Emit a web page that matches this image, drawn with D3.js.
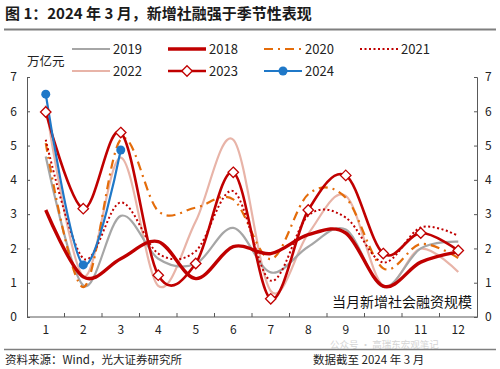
<!DOCTYPE html>
<html><head><meta charset="utf-8">
<script src="https://cdn.jsdelivr.net/npm/d3@7"></script>
<style>
body{margin:0;background:#fff;}
text{font-family:"Noto Sans CJK SC","Noto Sans",sans-serif;}
</style></head>
<body><svg id="c" width="500" height="369"></svg>
<script>
const months = [1,2,3,4,5,6,7,8,9,10,11,12];
const y2019 = [4.68, 0.92, 2.95, 1.7, 1.55, 2.6, 1.3, 2.05, 2.55, 0.88, 2.0, 2.2];
const y2018 = [3.12, 1.17, 1.7, 2.2, 1.12, 2.05, 1.85, 2.4, 2.45, 0.9, 1.6, 1.9];
const y2020 = [5.07, 0.87, 5.18, 3.09, 3.19, 3.43, 1.69, 3.58, 3.48, 1.42, 2.13, 1.72];
const y2021 = [5.17, 1.71, 3.34, 1.85, 1.92, 3.67, 1.06, 2.96, 2.9, 1.59, 2.61, 2.37];
const y2022 = [6.17, 1.19, 4.65, 0.91, 2.79, 5.17, 0.76, 2.43, 3.53, 0.91, 1.99, 1.31];
const y2023 = [5.98, 3.16, 5.38, 1.22, 1.56, 4.22, 0.53, 3.12, 4.13, 1.85, 2.45, 1.94];
const y2024 = [6.5, 1.52, 4.87];
const yTicks = [0,1,2,3,4,5,6,7];
const seriesNames = ["2019","2018","2020","2021","2022","2023","2024"];

const svg = d3.select("#c");
const x = d3.scaleBand().domain(months).range([27,477]);
const y = d3.scaleLinear().domain([0,7]).range([317,77]);
const cx = m => x(m) + x.bandwidth()/2;

// title
svg.append("text").attr("x",5).attr("y",19).attr("font-size",15).attr("font-weight","bold").attr("fill","#1a1a1a")
  .text("图 1：2024 年 3 月，新增社融强于季节性表现");
svg.append("line").attr("x1",4).attr("x2",496).attr("y1",29.5).attr("y2",29.5).attr("stroke","#7f7f7f").attr("stroke-width",2);

// axes
const axCol = "#595959";
const gl = svg.append("g").attr("transform","translate(27,0)").call(d3.axisLeft(y).tickValues(yTicks).tickSize(-3).tickPadding(10).tickFormat(d3.format("d")));
const gr = svg.append("g").attr("transform","translate(477,0)").call(d3.axisRight(y).tickValues(yTicks).tickSize(-3).tickPadding(8).tickFormat(d3.format("d")));
const gb = svg.append("g").attr("transform","translate(0,317)").call(d3.axisBottom(x).tickSize(0).tickPadding(8));
[gl,gr,gb].forEach(g=>{
  g.select(".domain").attr("stroke",axCol);
  g.selectAll(".tick line").attr("stroke",axCol);
  g.selectAll(".tick text").attr("font-size",12).attr("fill","#222").attr("font-family","'Noto Sans CJK SC','Noto Sans',sans-serif");
});
gb.select(".domain").attr("d","M27,0H477");
// bottom ticks between bands, pointing up
svg.append("g").selectAll("line").data(months.slice(1)).join("line")
  .attr("x1",d=>x(d)).attr("x2",d=>x(d)).attr("y1",317).attr("y2",313).attr("stroke",axCol);

svg.append("text").attr("x",27).attr("y",66).attr("font-size",12.5).attr("fill","#222").text("万亿元");

const line = d3.line().x((d,i)=>cx(months[i])).y(d=>y(d)).curve(d3.curveCatmullRom.alpha(0));
const styles = {
  "2019":{data:y2019,color:"#a6a6a6",w:2.2,dash:null},
  "2018":{data:y2018,color:"#c00000",w:3.4,dash:null},
  "2020":{data:y2020,color:"#e46c0a",w:2.2,dash:"9,5,2,5"},
  "2021":{data:y2021,color:"#c00000",w:2,dash:"2,2.5"},
  "2022":{data:y2022,color:"#e8b4a8",w:2.2,dash:null},
  "2023":{data:y2023,color:"#c00000",w:2.6,dash:null},
  "2024":{data:y2024,color:"#1f78c8",w:2.2,dash:null}
};
const drawOrder = ["2022","2019","2020","2021","2018","2023","2024"];
const plot = svg.append("g");
drawOrder.forEach(k=>{
  const s = styles[k];
  plot.append("path").attr("d",line(s.data)).attr("fill","none").attr("stroke",s.color)
    .attr("stroke-width",s.w).attr("stroke-dasharray",s.dash).attr("stroke-linecap","butt");
});
const diamond = d3.symbol().type(d3.symbolDiamond2).size(70);
plot.selectAll(".d23").data(y2023).join("path").attr("class","d23")
  .attr("transform",(d,i)=>`translate(${cx(months[i])},${y(d)})`)
  .attr("d",diamond).attr("fill","#fff").attr("stroke","#c00000").attr("stroke-width",1.3);
plot.selectAll(".c24").data(y2024).join("circle").attr("class","c24")
  .attr("cx",(d,i)=>cx(months[i])).attr("cy",d=>y(d)).attr("r",4.5).attr("fill","#1f78c8");

// legend
const legPos = {"2019":[72,49],"2018":[168,49],"2020":[264,49],"2021":[360,49],"2022":[72,71],"2023":[168,71],"2024":[264,71]};
seriesNames.forEach(k=>{
  const s = styles[k]; const [lx,ly] = legPos[k];
  const g = svg.append("g");
  g.append("line").attr("x1",lx).attr("x2",lx+38).attr("y1",ly).attr("y2",ly).attr("stroke",s.color)
    .attr("stroke-width",s.w).attr("stroke-dasharray",s.dash);
  if(k==="2023") g.append("path").attr("transform",`translate(${lx+19},${ly})`).attr("d",diamond).attr("fill","#fff").attr("stroke","#c00000").attr("stroke-width",1.3);
  if(k==="2024") g.append("circle").attr("cx",lx+19).attr("cy",ly).attr("r",4.5).attr("fill","#1f78c8");
  g.append("text").attr("x",lx+41).attr("y",ly+5).attr("font-size",13).attr("fill","#222").text(k);
});

svg.append("text").attr("x",472).attr("y",307).attr("text-anchor","end").attr("font-size",14).attr("fill","#111").text("当月新增社会融资规模");

// footer
svg.append("text").attr("x",330).attr("y",348).attr("font-size",9.5).attr("fill","#cccccc").attr("opacity",0.8).text("公众号 · 高瑞东宏观笔记");
svg.append("line").attr("x1",4).attr("x2",496).attr("y1",349.5).attr("y2",349.5).attr("stroke","#7f7f7f").attr("stroke-width",1.5);
svg.append("text").attr("x",5).attr("y",364).attr("font-size",11.5).attr("fill","#222").text("资料来源：Wind，光大证券研究所");
svg.append("text").attr("x",313).attr("y",364).attr("font-size",11.5).attr("fill","#222").text("数据截至 2024 年 3 月");
</script></body></html>
